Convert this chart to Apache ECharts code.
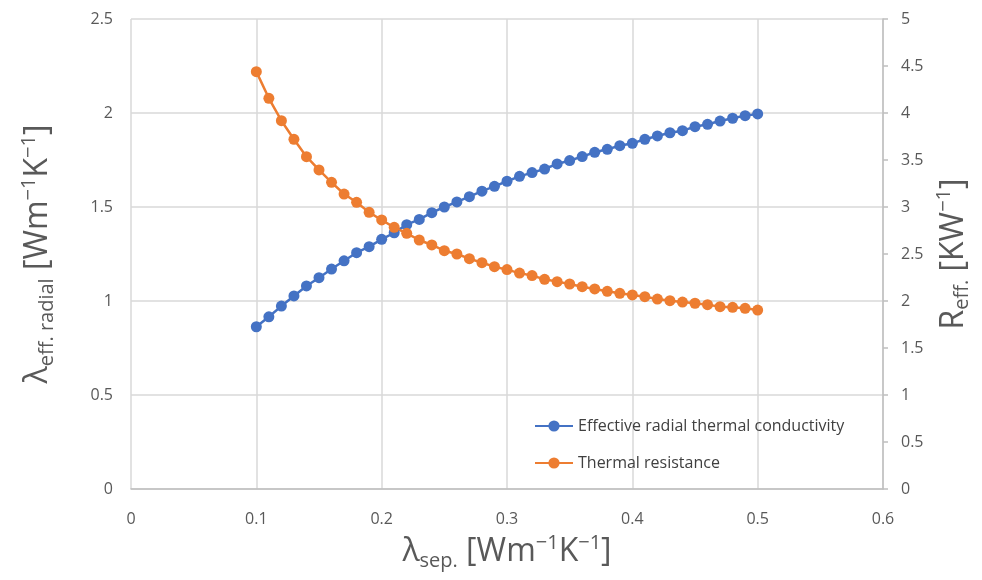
<!DOCTYPE html>
<html>
<head>
<meta charset="utf-8">
<script src="https://cdn.jsdelivr.net/npm/echarts@6/dist/echarts.min.js"></script>
<style>
  html, body { margin: 0; padding: 0; background: #fff; }
  #chart { width: 982px; height: 580px; }
</style>
</head>
<body>
<div id="chart"></div>
<script>
// separator conductivity, 0.10 .. 0.50 in steps of 0.01
const lambdaSep = [];
for (let i = 10; i <= 50; i++) lambdaSep.push(i / 100);

// effective radial thermal conductivity [W/mK] (left axis)
const conductivity = [
  0.863, 0.916, 0.973, 1.027, 1.080, 1.124, 1.170, 1.214, 1.257, 1.289,
  1.328, 1.363, 1.406, 1.434, 1.470, 1.500, 1.527, 1.555, 1.584, 1.610,
  1.637, 1.663, 1.683, 1.702, 1.729, 1.747, 1.768, 1.791, 1.807, 1.826,
  1.839, 1.860, 1.878, 1.895, 1.906, 1.927, 1.940, 1.957, 1.972, 1.986,
  1.995
];

// thermal resistance [K/W] (right axis)
const resistance = [
  4.440, 4.156, 3.918, 3.720, 3.535, 3.394, 3.262, 3.138, 3.050, 2.943,
  2.862, 2.784, 2.720, 2.649, 2.596, 2.535, 2.500, 2.450, 2.408, 2.365,
  2.334, 2.297, 2.270, 2.231, 2.206, 2.181, 2.152, 2.128, 2.103, 2.082,
  2.064, 2.046, 2.021, 2.003, 1.989, 1.976, 1.961, 1.940, 1.933, 1.922,
  1.904
];

const seriesNames = ['Effective radial thermal conductivity', 'Thermal resistance'];

const FONT = '"Open Sans", "Liberation Sans", sans-serif';
const labelStyle = { color: '#595959', fontSize: 16, fontFamily: FONT };

// rich text pieces for the big axis titles (sub/superscripts)
const nameRich = {
  a: { fontSize: 32, fontFamily: FONT, color: '#595959', lineHeight: 38 },
  s: { fontSize: 20, fontFamily: FONT, color: '#595959', lineHeight: 12, verticalAlign: 'bottom' },
  p: { fontSize: 20, fontFamily: FONT, color: '#595959', lineHeight: 18, verticalAlign: 'top' }
};

const chart = echarts.init(document.getElementById('chart'));

const option = {
  backgroundColor: '#fff',
  animation: false,
  grid: { left: 131, right: 99, top: 19, bottom: 91 },
  legend: {
    orient: 'vertical',
    left: 529,
    top: 413,
    itemWidth: 38,
    itemHeight: 14,
    itemGap: 21,
    textStyle: { color: '#404040', fontSize: 16, fontFamily: FONT },
    data: seriesNames
  },
  xAxis: {
    type: 'value',
    min: 0, max: 0.6, interval: 0.1,
    name: '{a|λ}{s|sep.}{a| [Wm}{p|−1}{a|K}{p|−1}{a|]}',
    nameLocation: 'middle',
    nameGap: 44,
    nameTextStyle: { rich: nameRich },
    axisLine: { lineStyle: { color: '#bfbfbf', width: 1.5 } },
    axisTick: { show: false },
    axisLabel: Object.assign({ margin: 22 }, labelStyle),
    splitLine: { lineStyle: { color: '#d9d9d9', width: 1.5 } }
  },
  yAxis: [
    {
      type: 'value',
      min: 0, max: 2.5, interval: 0.5,
      name: '{a|λ}{s|eff. radial}{a| [Wm}{p|−1}{a|K}{p|−1}{a|]}',
      nameLocation: 'middle',
      nameRotate: 90,
      nameGap: 74,
      nameTextStyle: { rich: nameRich },
      axisLine: { show: false },
      axisTick: { show: false },
      axisLabel: Object.assign({ margin: 18 }, labelStyle),
      splitLine: { lineStyle: { color: '#d9d9d9', width: 1.5 } }
    },
    {
      type: 'value',
      position: 'right',
      min: 0, max: 5, interval: 0.5,
      name: '{a|R}{s|eff.}{a| [KW}{p|−1}{a|]}',
      nameLocation: 'middle',
      nameRotate: 90,
      nameGap: 46,
      nameTextStyle: { rich: nameRich },
      axisLine: { show: true, lineStyle: { color: '#bfbfbf', width: 1.5 } },
      axisTick: { show: true, length: 5, lineStyle: { color: '#bfbfbf', width: 1.5 } },
      axisLabel: Object.assign({ margin: 18 }, labelStyle),
      splitLine: { show: false }
    }
  ],
  series: [
    {
      name: seriesNames[0],
      type: 'line',
      yAxisIndex: 0,
      data: lambdaSep.map((x, i) => [x, conductivity[i]]),
      symbol: 'circle',
      symbolSize: 11,
      itemStyle: { color: '#4472c4' },
      lineStyle: { color: '#4472c4', width: 2.5 }
    },
    {
      name: seriesNames[1],
      type: 'line',
      yAxisIndex: 1,
      data: lambdaSep.map((x, i) => [x, resistance[i]]),
      symbol: 'circle',
      symbolSize: 11,
      itemStyle: { color: '#ed7d31' },
      lineStyle: { color: '#ed7d31', width: 2.5 }
    }
  ]
};

chart.setOption(option);
</script>
</body>
</html>
